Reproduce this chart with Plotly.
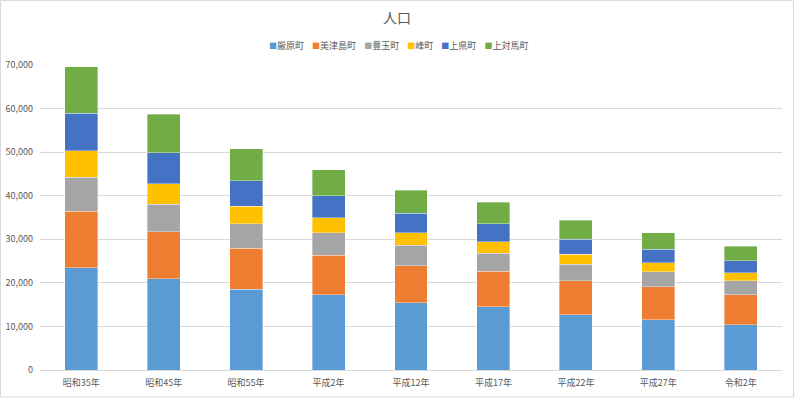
import plotly.graph_objects as go

categories = ["昭和35年", "昭和45年", "昭和55年", "平成2年", "平成12年", "平成17年", "平成22年", "平成27年", "令和2年"]
izuhara = [23490, 20900, 18550, 17300, 15470, 14480, 12650, 11570, 10360]
mitsushima = [12900, 10840, 9370, 9000, 8480, 8160, 7850, 7560, 6940]
toyotama = [7880, 6260, 5600, 5200, 4650, 4210, 3750, 3370, 3200]
mine = [6030, 4800, 4100, 3450, 2900, 2600, 2290, 2060, 1770]
kamiagata = [8640, 7100, 5850, 5100, 4520, 4120, 3520, 3130, 2820]
kamitsushima = [10680, 8800, 7300, 5950, 5180, 4880, 4340, 3820, 3370]

series_names = ["厳原町", "美津島町", "豊玉町", "峰町", "上県町", "上対馬町"]
series_values = [izuhara, mitsushima, toyotama, mine, kamiagata, kamitsushima]
colors = ["#5B9BD5", "#ED7D31", "#A5A5A5", "#FFC000", "#4472C4", "#70AD47"]

W, H = 794, 398
ml, mr, mt, mb = 40, 12, 65, 27.5

fig = go.Figure()
for name, vals, c in zip(series_names, series_values, colors):
    fig.add_trace(go.Bar(name=name, x=categories, y=vals, showlegend=False,
                         marker=dict(color=c, line=dict(color="rgba(255,255,255,0.6)", width=0.6))))

pw = W - ml - mr
ph = H - mt - mb

# compact Excel-style legend as a single text line
legend_html = "&nbsp;&nbsp;&nbsp;&nbsp;".join(
    f'<span style="color:{c};font-size:8px">■</span>{n}' for n, c in zip(series_names, colors)
)
fig.add_annotation(text=legend_html, xref="paper", yref="paper",
                   x=(398 - ml) / pw, y=(370.5 - 45) / ph, xanchor="center", yanchor="middle",
                   showarrow=False, font=dict(size=9, color="#595959", family="Noto Sans CJK JP"))

fig.update_layout(
    barmode="stack",
    bargap=0.6,
    width=W, height=H,
    margin=dict(l=ml, r=mr, t=mt, b=mb, autoexpand=False),
    paper_bgcolor="white", plot_bgcolor="white",
    font=dict(family="Noto Sans CJK JP", color="#595959", size=9),
    title=dict(text="人口", x=0.5, xref="container", y=1 - 18 / H, yref="container", yanchor="middle", xanchor="center",
               font=dict(size=14, color="#595959")),
    showlegend=False,
)
fig.update_yaxes(range=[0, 70000], dtick=10000, tickformat=",", showgrid=True, gridcolor="#D9D9D9", gridwidth=1,
                 zeroline=False, showline=False, ticks="", tickfont=dict(size=9, color="#595959"),
                 ticklabelstandoff=6, automargin=False)
fig.update_xaxes(showline=True, linecolor="#D9D9D9", linewidth=1, ticks="", tickfont=dict(size=9, color="#595959"),
                 ticklabelstandoff=4, automargin=False)

# outer chart border
fig.add_shape(type="rect", xref="paper", yref="paper",
              x0=(0.5 - ml) / pw, x1=(W - 0.5 - ml) / pw,
              y0=-(mb - 0.5) / ph, y1=1 + (mt - 0.5) / ph,
              line=dict(color="#D9D9D9", width=1), fillcolor="rgba(0,0,0,0)", layer="above")

fig.write_html("out.html", config={"displayModeBar": False},
               post_script="document.body.style.margin='0';document.body.style.overflow='hidden';")
